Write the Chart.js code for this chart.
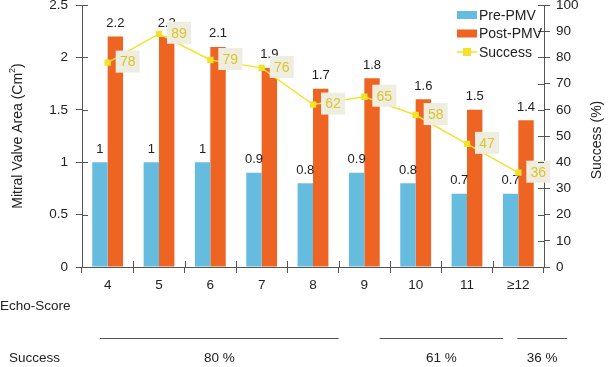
<!DOCTYPE html>
<html>
<head>
<meta charset="utf-8">
<script src="https://cdn.jsdelivr.net/npm/chart.js@4.4.1/dist/chart.umd.min.js"></script>
<style>
  html, body { margin: 0; padding: 0; background: #fff; }
  canvas { display: block; }
</style>
</head>
<body>
<canvas id="myChart" width="612" height="367"></canvas>
<script>
// data
const categories = ['4', '5', '6', '7', '8', '9', '10', '11', '\u226512'];
const prePMV  = [1, 1, 1, 0.9, 0.8, 0.9, 0.8, 0.7, 0.7];
const postPMV = [2.2, 2.2, 2.1, 1.9, 1.7, 1.8, 1.6, 1.5, 1.4];
const success = [78, 89, 79, 76, 62, 65, 58, 47, 36];
const groupLabels = ['80 %', '61 %', '36 %'];

// where the group underlines sit, in category units along the x scale
const groupSpans = [[0.35, 5.0], [5.8, 8.2], [8.48, 9.45]];

const BLUE = '#66bcdf';
const ORANGE = '#ee6423';
const YELLOW = '#f3e22c';
const LABEL_YELLOW = '#d8c62c';
const BOX = '#efece0';
const AXIS = '#555';
const TEXT = '#222';
const FONT = '"Liberation Sans", Arial, Helvetica, sans-serif';

function fmt(v) { return String(v) }

const extras = {
  id: 'extras',
  afterDatasetDraw(chart, args) {
    // value labels on top of the bars, drawn before the line goes over them
    const ds = chart.data.datasets[args.index];
    if (ds.type === 'line') return;
    const ctx = chart.ctx;
    ctx.save();
    ctx.font = '13px ' + FONT;
    ctx.fillStyle = TEXT;
    ctx.textAlign = 'center';
    ctx.textBaseline = 'middle';
    args.meta.data.forEach((el, i) => {
      ctx.fillText(fmt(ds.data[i]), el.x, el.y - 13);
    });
    ctx.restore();
  },
  afterDatasetsDraw(chart) {
    const ctx = chart.ctx;
    const meta = chart.getDatasetMeta(0);
    ctx.save();
    ctx.font = '14px ' + FONT;
    ctx.textAlign = 'center';
    ctx.textBaseline = 'middle';
    meta.data.forEach((pt, i) => {
      const bx = pt.x + 8, by = pt.y - 12, bw = 24, bh = 22;
      ctx.fillStyle = BOX;
      ctx.fillRect(bx, by, bw, bh);
      ctx.fillStyle = LABEL_YELLOW;
      ctx.fillText(fmt(success[i]), bx + bw / 2, by + bh / 2 + 1);
    });
    ctx.restore();
  },
  afterDraw(chart) {
    const ctx = chart.ctx;
    const a = chart.chartArea;
    const y = chart.scales.y, y1 = chart.scales.y1;
    ctx.save();
    // inner half of the tick marks
    ctx.strokeStyle = AXIS;
    ctx.lineWidth = 1;
    ctx.beginPath();
    y.ticks.forEach(t => {
      const py = Math.round(y.getPixelForValue(t.value)) + 0.5;
      ctx.moveTo(a.left, py); ctx.lineTo(a.left + 6, py);
    });
    y1.ticks.forEach(t => {
      const py = Math.round(y1.getPixelForValue(t.value)) + 0.5;
      ctx.moveTo(a.right, py); ctx.lineTo(a.right - 6, py);
    });
    const cw = (a.right - a.left) / categories.length;
    for (let i = 0; i <= categories.length; i++) {
      const px = Math.round(a.left + i * cw) + 0.5;
      ctx.moveTo(px, a.bottom); ctx.lineTo(px, a.bottom - 6);
    }
    ctx.stroke();

    // axis titles
    ctx.fillStyle = TEXT;
    ctx.font = '14px ' + FONT;
    ctx.textAlign = 'center';
    ctx.textBaseline = 'middle';
    const midY = (a.top + a.bottom) / 2;
    ctx.save();
    ctx.translate(18, midY);
    ctx.rotate(-Math.PI / 2);
    const t1 = 'Mitral Valve Area (Cm';
    const w1 = ctx.measureText(t1).width;
    ctx.font = '9px ' + FONT;
    const w2 = ctx.measureText('2').width;
    ctx.font = '14px ' + FONT;
    const w3 = ctx.measureText(')').width;
    let sx = -(w1 + w2 + w3) / 2;
    ctx.textAlign = 'left';
    ctx.fillText(t1, sx, 0);
    ctx.font = '9px ' + FONT;
    ctx.fillText('2', sx + w1, -5);
    ctx.font = '14px ' + FONT;
    ctx.fillText(')', sx + w1 + w2, 0);
    ctx.restore();

    ctx.save();
    ctx.translate(597, midY + 4);
    ctx.rotate(-Math.PI / 2);
    ctx.fillText('Success (%)', 0, 0);
    ctx.restore();

    // legend
    ctx.font = '14px ' + FONT;
    ctx.textAlign = 'left';
    const lx = a.right - 87;
    const rows = [
      { label: 'Pre-PMV', kind: 'box', color: BLUE },
      { label: 'Post-PMV', kind: 'box', color: ORANGE },
      { label: 'Success', kind: 'line', color: YELLOW }
    ];
    rows.forEach((r, i) => {
      const cy = 15 + i * 18.5;
      if (r.kind === 'box') {
        ctx.fillStyle = r.color;
        ctx.fillRect(lx, cy - 4, 20, 8);
      } else {
        ctx.strokeStyle = r.color;
        ctx.lineWidth = 1.5;
        ctx.beginPath();
        ctx.moveTo(lx, cy); ctx.lineTo(lx + 20, cy);
        ctx.stroke();
        ctx.fillStyle = r.color;
        ctx.fillRect(lx + 6, cy - 4, 8, 8);
      }
      ctx.fillStyle = TEXT;
      ctx.fillText(r.label, lx + 22, cy + 1);
    });

    // rows under the axis
    ctx.font = '13.5px ' + FONT;
    ctx.fillStyle = TEXT;
    ctx.textAlign = 'left';
    ctx.fillText('Echo-Score', 0, 306);
    ctx.fillText('Success', 9, 358);
    ctx.textAlign = 'center';
    ctx.strokeStyle = AXIS;
    ctx.lineWidth = 1;
    groupSpans.forEach((s, i) => {
      const x0 = a.left + s[0] * cw, x1 = a.left + s[1] * cw;
      ctx.beginPath();
      ctx.moveTo(x0, 338.5); ctx.lineTo(x1, 338.5);
      ctx.stroke();
      ctx.fillText(groupLabels[i], (x0 + x1) / 2, 358);
    });
    ctx.restore();
  }
};

function noPad(s) { s.paddingTop = 0; s.paddingBottom = 0 }

new Chart('myChart', {
  type: 'bar',
  data: {
    labels: categories,
    datasets: [{
      type: 'line',
      label: 'Success',
      data: success,
      yAxisID: 'y1',
      borderColor: YELLOW,
      backgroundColor: YELLOW,
      borderWidth: 1.5,
      pointStyle: 'rect',
      pointRadius: 4.5,
      pointBorderWidth: 0,
      order: 0
    }, {
      label: 'Pre-PMV',
      data: prePMV,
      yAxisID: 'y',
      backgroundColor: BLUE,
      categoryPercentage: 0.6,
      barPercentage: 1,
      order: 1
    }, {
      label: 'Post-PMV',
      data: postPMV,
      yAxisID: 'y',
      backgroundColor: ORANGE,
      categoryPercentage: 0.6,
      barPercentage: 1,
      order: 1
    }]
  },
  options: {
    responsive: false,
    animation: false,
    layout: { padding: { top: 5, left: 0, right: 0, bottom: 0 } },
    plugins: { legend: { display: false }, tooltip: { enabled: false } },
    scales: {
      x: {
        grid: { drawOnChartArea: false, tickLength: 6, color: AXIS, offset: true },
        border: { color: AXIS },
        ticks: { color: TEXT, font: { size: 13.5, family: FONT }, padding: 4, maxRotation: 0 },
        afterFit: s => { s.height = 100; s.paddingLeft = 0; s.paddingRight = 0 }
      },
      y: {
        position: 'left',
        min: 0, max: 2.5,
        grid: { drawOnChartArea: false, tickLength: 6, color: AXIS },
        border: { color: AXIS },
        ticks: { stepSize: 0.5, color: TEXT, font: { size: 13.5, family: FONT }, padding: 8,
                 callback: v => fmt(v) },
        afterFit: s => { s.width = 82; noPad(s) }
      },
      y1: {
        position: 'right',
        min: 0, max: 100,
        grid: { drawOnChartArea: false, tickLength: 6, color: AXIS },
        border: { color: AXIS },
        ticks: { stepSize: 10, color: TEXT, font: { size: 13.5, family: FONT }, padding: 6 },
        afterFit: s => { s.width = 68; noPad(s) }
      }
    }
  },
  plugins: [extras]
});
</script>
</body>
</html>
